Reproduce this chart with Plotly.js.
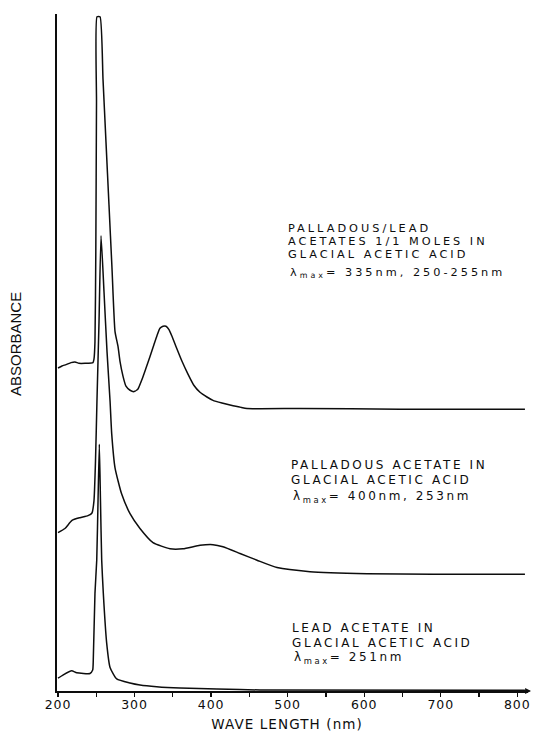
<!DOCTYPE html>
<html>
<head>
<meta charset="utf-8">
<script src="https://cdn.plot.ly/plotly-3.0.1.min.js"></script>
<style>
html,body{margin:0;padding:0;background:#ffffff;}
#chart{width:538px;height:731px;}
.xtick text{letter-spacing:0.9px;}
</style>
</head>
<body>
<div id="chart"></div>
<script>
// ---- Data (wavelength in nm, absorbance in arbitrary offset units) ----
const wavelengthPdPb = [200, 205.2, 210.5, 217, 222.2, 227.4, 235.3, 245.7, 247.0, 248.3, 249.4, 250.3, 251.0, 254.9, 258.8, 262.7, 266.6, 270.5, 274.5, 278.4, 281.0, 284.9, 288.8, 294.1, 299.3, 304.5, 309.7, 315.0, 320.2, 325.4, 329.3, 333.2, 337.2, 341.1, 345.0, 348.9, 354.1, 362.0, 369.8, 377.7, 385.5, 394.6, 402.5, 414.2, 424.7, 437.8, 446.9, 516.1, 646.8, 810];
const absorbancePdPb = [47.9, 48.2, 48.4, 48.7, 48.8, 48.6, 48.6, 48.7, 49.2, 51.8, 65.1, 87.3, 100, 100, 90.7, 81.4, 72.1, 62.8, 53.3, 51.1, 48.9, 46.7, 45.2, 44.6, 44.4, 44.8, 46.2, 47.9, 49.6, 51.4, 52.7, 53.8, 54.1, 54.1, 53.6, 52.6, 51.1, 48.9, 47.0, 45.3, 44.3, 43.6, 43.1, 42.7, 42.4, 42.1, 41.9, 41.9, 41.8, 41.8];

const wavelengthPd = [200, 209.1, 218.3, 228.7, 239.2, 244.4, 247.0, 249.0, 250.9, 253.6, 256.2, 260.1, 264.0, 268.0, 270.2, 274.5, 283.2, 294.1, 307.1, 324.1, 346.3, 363.3, 385.5, 402.5, 415.5, 437.8, 460.0, 486.1, 529.2, 603.7, 689.9, 810];
const absorbancePd = [23.5, 24.1, 25.3, 25.7, 26.0, 26.4, 28.2, 34.1, 43.0, 54.8, 67.5, 59.2, 50.4, 43.0, 38.1, 33.1, 29.2, 26.3, 24.1, 22.0, 21.1, 21.1, 21.6, 21.7, 21.4, 20.4, 19.4, 18.3, 17.7, 17.4, 17.3, 17.3];

const wavelengthPb = [200, 206.9, 217.9, 224.4, 241.8, 245.3, 246.1, 248.3, 250.6, 252.3, 254.0, 255.5, 257.1, 259.2, 263.6, 268.0, 276.7, 294.1, 307.1, 328.9, 359.4, 407.7, 463.9, 810];
const absorbancePb = [1.9, 2.4, 3.0, 2.7, 2.6, 3.1, 4.6, 14.5, 19.4, 28.2, 36.6, 28.2, 19.4, 14.5, 7.1, 3.5, 1.8, 1.2, 0.9, 0.64, 0.44, 0.3, 0.15, 0.1];

const xTickValues = [200, 300, 400, 500, 600, 700, 800];
const xTickLabels = ['200', '300', '400', '500', '600', '700', '800'];
const xMinorTickValues = [250, 350, 450, 550, 650, 750];

const labelPdPb = ['PALLADOUS/LEAD', 'ACETATES 1/1 MOLES IN', 'GLACIAL ACETIC ACID', 'λ<sub>max</sub>= 335nm, 250-255nm'];
const labelPd = ['PALLADOUS ACETATE IN', 'GLACIAL ACETIC ACID', 'λ<sub>max</sub>= 400nm, 253nm'];
const labelPb = ['LEAD ACETATE IN', 'GLACIAL ACETIC ACID', 'λ<sub>max</sub>= 251nm'];
const xTitle = 'WAVE LENGTH (nm)';
const yTitle = 'ABSORBANCE';

// ---- Geometry ----
const W = 538, H = 731, ML = 57, MR = 10, MT = 14, MB = 40;
const pw = W - ML - MR, ph = H - MT - MB;
const px = v => (v - ML) / pw;
const py = v => (H - MB - v) / ph;

const ink = '#0d0d0d';
const lineStyle = {color: ink, width: 1.5, shape: 'spline', smoothing: 0.5};

const traces = [
  {x: wavelengthPdPb, y: absorbancePdPb, mode: 'lines', line: lineStyle, hoverinfo: 'skip'},
  {x: wavelengthPd, y: absorbancePd, mode: 'lines', line: lineStyle, hoverinfo: 'skip'},
  {x: wavelengthPb, y: absorbancePb, mode: 'lines', line: lineStyle, hoverinfo: 'skip'}
];

const annotations = [];
const spacing = [];
function addLabel(lines, left, centers, size, ls) {
  lines.forEach((t, i) => {
    annotations.push({
      xref: 'paper', yref: 'paper', x: px(left + (t.startsWith('λ') ? 2 : 0)), y: py(centers[i]),
      xanchor: 'left', yanchor: 'middle', align: 'left', showarrow: false, borderpad: 0,
      text: t, font: {family: 'DejaVu Sans', size: size, color: ink}
    });
    spacing.push(ls);
  });
}
addLabel(labelPdPb, 287, [228, 241.2, 254.4, 273], 11.3, 3.0);
addLabel(labelPd, 290, [464.5, 479.5, 497], 12, 2.6);
addLabel(labelPb, 291, [628, 642.5, 658], 12, 2.6);

annotations.push({
  xref: 'paper', yref: 'paper', x: px(287), y: py(724), xanchor: 'center', yanchor: 'middle',
  showarrow: false, text: xTitle, font: {family: 'DejaVu Sans', size: 13.5, color: ink}
});
spacing.push(1.1);
annotations.push({
  xref: 'paper', yref: 'paper', x: px(15), y: py(344), xanchor: 'center', yanchor: 'middle',
  showarrow: false, textangle: -90, text: yTitle, font: {family: 'Liberation Sans', size: 15, color: ink}
});
spacing.push(0);
// arrow tip at the end of the wavelength axis
annotations.push({
  xref: 'paper', yref: 'paper', x: px(531), y: py(691), ax: -9, ay: 0, text: '',
  showarrow: true, arrowhead: 2, arrowsize: 0.9, arrowwidth: 1.3, arrowcolor: ink
});
spacing.push(0);

let css = '';
spacing.forEach((s, i) => {
  if (s) css += '.annotation[data-index="' + i + '"] text{letter-spacing:' + s + 'px;}\n';
});
const st = document.createElement('style');
st.textContent = css;
document.head.appendChild(st);

const layout = {
  width: W, height: H,
  margin: {l: ML, r: MR, t: MT, b: MB, pad: 0},
  paper_bgcolor: '#ffffff', plot_bgcolor: '#ffffff',
  showlegend: false,
  xaxis: {
    range: [198.7, 814], showgrid: false, zeroline: false,
    showline: true, linecolor: ink, linewidth: 1.6,
    tickmode: 'array', tickvals: xTickValues, ticktext: xTickLabels,
    ticks: 'outside', ticklen: 4, tickwidth: 1.3, tickcolor: ink,
    ticklabelstandoff: -3,
    minor: {tickmode: 'array', tickvals: xMinorTickValues, ticks: 'outside', ticklen: 4, tickwidth: 1.3, tickcolor: ink},
    tickfont: {family: 'DejaVu Sans', size: 12.5, color: ink},
    fixedrange: true
  },
  yaxis: {
    range: [0, 100.4], showgrid: false, zeroline: false,
    showline: true, linecolor: ink, linewidth: 1.6,
    showticklabels: false, ticks: '', fixedrange: true
  },
  annotations: annotations
};

Plotly.newPlot('chart', traces, layout, {staticPlot: true, displayModeBar: false});
</script>
</body>
</html>
